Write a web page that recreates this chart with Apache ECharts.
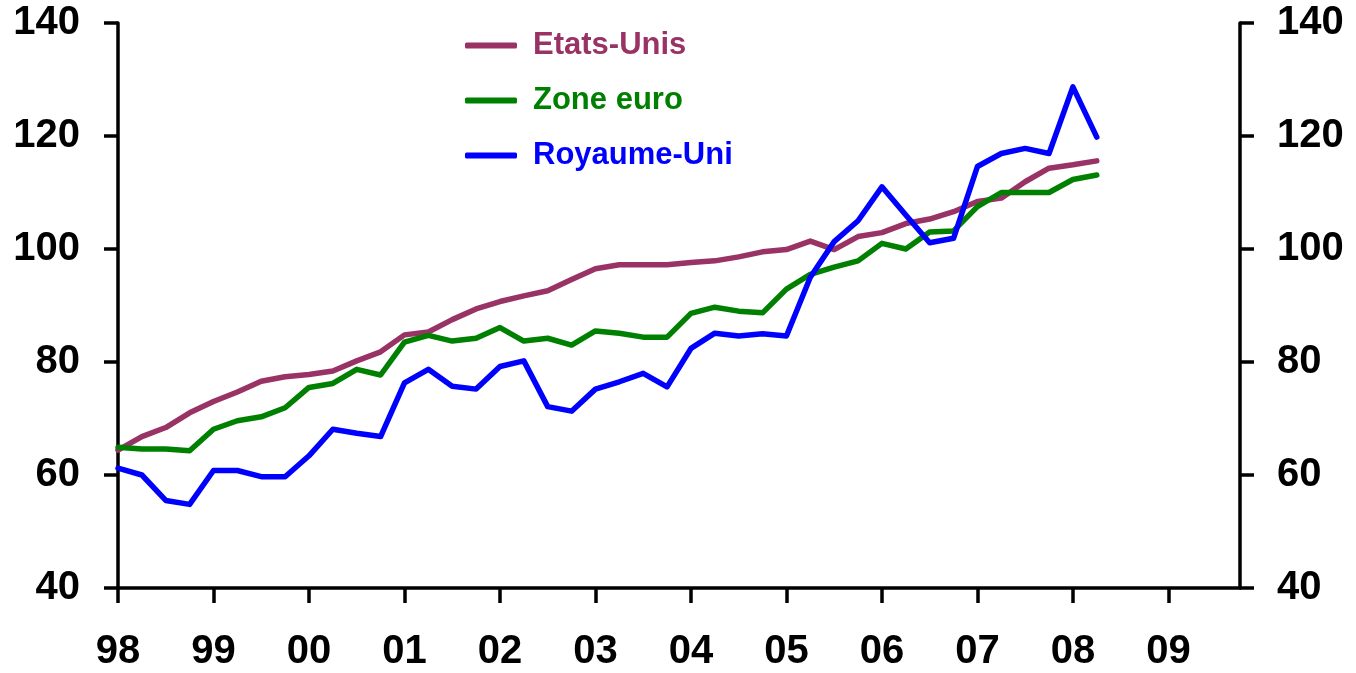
<!DOCTYPE html>
<html style="height: 100%">
<head>
    <meta charset="utf-8">
    <script type="text/javascript" src="https://cdn.jsdelivr.net/npm/echarts@6/dist/echarts.min.js"></script>
</head>
<body style="height: 100%; margin: 0; background: #fff">
<div id="container" style="width: 1356px; height: 673px"></div>
<script type="text/javascript">
    // trimestres 98T1 .. 09T4
    var years = ['98', '99', '00', '01', '02', '03', '04', '05', '06', '07', '08', '09'];
    var quarters = [];
    years.forEach(function (y) {
        for (var q = 1; q <= 4; q++) quarters.push(y + 'T' + q);
    });

    var etatsUnis = [64.4, 66.8, 68.4, 71.0, 73.0, 74.7, 76.6, 77.4, 77.8, 78.4, 80.2, 81.8,
        84.8, 85.3, 87.5, 89.4, 90.7, 91.7, 92.6, 94.6, 96.5, 97.2, 97.2, 97.2,
        97.6, 97.9, 98.6, 99.5, 99.9, 101.4, 99.9, 102.2, 102.9, 104.5, 105.3, 106.6,
        108.4, 109.0, 111.9, 114.3, 114.9, 115.6];
    var zoneEuro = [64.9, 64.6, 64.6, 64.3, 68.1, 69.6, 70.3, 71.9, 75.5, 76.2, 78.7, 77.7,
        83.5, 84.7, 83.7, 84.2, 86.1, 83.7, 84.2, 83.0, 85.5, 85.1, 84.4, 84.4,
        88.6, 89.7, 89.0, 88.7, 92.9, 95.5, 96.8, 97.9, 101.0, 100.0, 103.0, 103.2,
        107.5, 110.0, 110.0, 110.0, 112.3, 113.1];
    var royaumeUni = [61.2, 60.0, 55.5, 54.8, 60.8, 60.8, 59.7, 59.7, 63.4, 68.1, 67.4, 66.8,
        76.3, 78.7, 75.7, 75.2, 79.2, 80.2, 72.1, 71.3, 75.2, 76.5, 78.0, 75.6,
        82.4, 85.1, 84.6, 85.0, 84.6, 95.0, 101.3, 105.0, 111.0, 106.0, 101.1, 101.9,
        114.6, 116.9, 117.8, 116.9, 128.7, 119.8];

    var names = ['Etats-Unis', 'Zone euro', 'Royaume-Uni'];
    var colors = ['#993366', '#008000', '#0000ff'];
    var values = [etatsUnis, zoneEuro, royaumeUni];

    var font = "'Liberation Sans', Arial, sans-serif";
    var dom = document.getElementById("container");
    var myChart = echarts.init(dom);

    var yAxisBase = function (pos, margin) {
        return {
            type: 'value',
            position: pos,
            min: 40,
            max: 140,
            interval: 20,
            splitLine: {show: false},
            axisLine: {show: true, lineStyle: {color: '#000', width: 3.5}},
            axisTick: {show: true, length: 14, lineStyle: {color: '#000', width: 3.5}},
            axisLabel: {
                margin: margin,
                color: '#000',
                fontFamily: font,
                fontWeight: 'bold',
                fontSize: 40
            }
        };
    };

    var option = {
        animation: false,
        color: colors,
        grid: {left: 118, right: 116, top: 23, bottom: 85, containLabel: false},
        legend: {
            orient: 'vertical',
            left: 465,
            top: 30,
            padding: 0,
            itemGap: 24,
            itemWidth: 52,
            itemHeight: 6,
            icon: 'roundRect',
            data: names.map(function (n, i) {
                return {name: n, textStyle: {color: colors[i]}};
            }),
            textStyle: {
                fontFamily: font,
                fontWeight: 'bold',
                fontSize: 31,
                padding: [0, 0, 0, 11]
            }
        },
        xAxis: {
            type: 'category',
            data: quarters,
            boundaryGap: false,
            axisLine: {onZero: false, lineStyle: {color: '#000', width: 3.5}},
            axisTick: {
                length: 15,
                interval: function (i) { return i % 4 === 0; },
                lineStyle: {color: '#000', width: 3.5}
            },
            axisLabel: {
                interval: function (i) { return i % 4 === 0; },
                formatter: function (v) { return v.slice(0, 2); },
                margin: 44,
                color: '#000',
                fontFamily: font,
                fontWeight: 'bold',
                fontSize: 40
            }
        },
        yAxis: [yAxisBase('left', 38), yAxisBase('right', 37)],
        series: names.map(function (n, i) {
            return {
                name: n,
                type: 'line',
                data: values[i],
                symbol: 'none',
                lineStyle: {width: 5.5, color: colors[i], cap: 'round', join: 'round'}
            };
        })
    };

    myChart.setOption(option);
</script>
</body>
</html>
